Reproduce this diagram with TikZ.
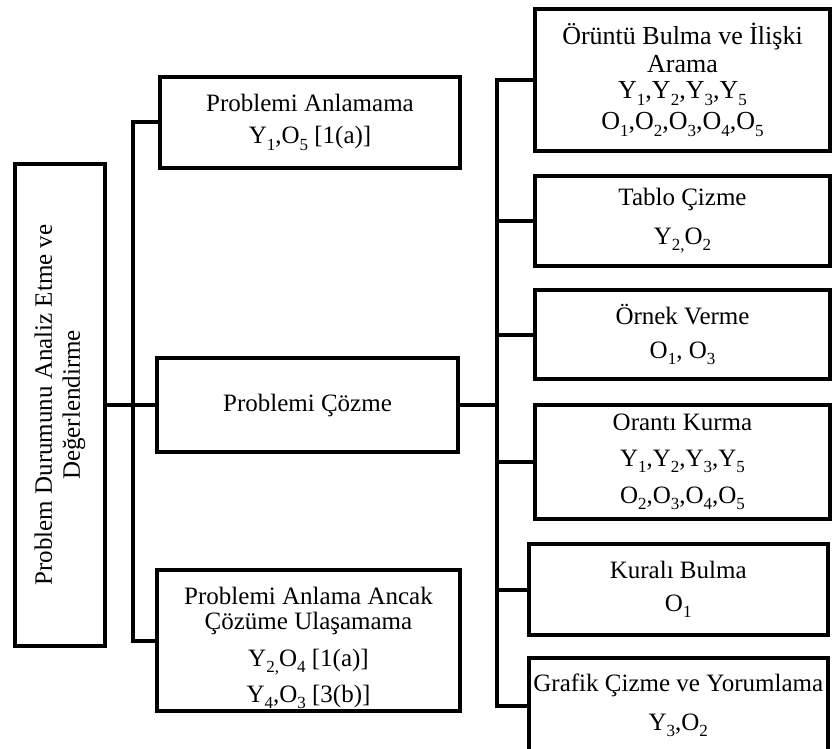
\documentclass[tikz,border=0pt]{standalone}
\usepackage{fontspec}
\setmainfont{Liberation Serif}
% lowered, fairly large subscript digits
\newcommand\sbs[1]{\raisebox{-6.5pt}{\fontsize{17}{17}\selectfont #1}}
\begin{document}
\begin{tikzpicture}[x=1pt,y=-1pt,
  box/.style={draw=black, line width=4pt, fill=white, inner sep=0pt,
    align=center, font=\fontsize{25}{28}\selectfont},
  link/.style={draw=black, line width=4pt}]
\useasboundingbox (0,0) rectangle (832,749);

% root box, text set vertically
\node[box, rotate=90, minimum width=482, minimum height=90] (main) at (60,405)
  {Problem Durumunu Analiz Etme ve\\ Değerlendirme};

% second level
\node[box, minimum width=300, minimum height=91] (A) at (310,122.5)
  {Problemi Anlamama\\[4pt] Y\sbs{1},O\sbs{5} [1(a)]};
\node[box, minimum width=301, minimum height=94] (B) at (307.5,405)
  {Problemi Çözme};
\node[box, minimum width=303, minimum height=141] (C) at (308.5,640.5)
  {\rule{0pt}{32pt}Problemi Anlama Ancak\\[-3pt] Çözüme Ulaşamama\\[9pt]
   Y\sbs{2,}O\sbs{4} [1(a)]\\[8pt]
   Y\sbs{4},O\sbs{3} [3(b)]};

% strategies used while solving
\node[box, minimum width=295, minimum height=141.5,
      font=\fontsize{26}{28}\selectfont] (R1) at (682.5,80)
  {Örüntü Bulma ve İlişki\\[0pt] Arama\\[-2pt]
   Y\sbs{1},Y\sbs{2},Y\sbs{3},Y\sbs{5}\\[3pt]
   O\sbs{1},O\sbs{2},O\sbs{3},O\sbs{4},O\sbs{5}};
\node[box, minimum width=295, minimum height=90] (R2) at (682.5,220.5)
  {Tablo Çizme\\[11pt] Y\sbs{2,}O\sbs{2}};
\node[box, minimum width=295, minimum height=89] (R3) at (682.5,334.5)
  {Örnek Verme\\[6pt] O\sbs{1}, O\sbs{3}};
\node[box, minimum width=295, minimum height=114] (R4) at (682.5,462)
  {Orantı Kurma\\[8pt]
   Y\sbs{1},Y\sbs{2},Y\sbs{3},Y\sbs{5}\\[9pt]
   O\sbs{2},O\sbs{3},O\sbs{4},O\sbs{5}};
\node[box, minimum width=299.5, minimum height=91] (R5) at (678.25,589.5)
  {Kuralı Bulma\\[5pt] O\sbs{1}};
\node[box, minimum width=299.5, minimum height=95] (R6) at (678.25,705.5)
  {Grafik Çizme ve Yorumlama\\[11pt] Y\sbs{3},O\sbs{2}};

% connector buses
\coordinate (lbus) at (132.5,405);
\coordinate (rbus) at (497,405);

\draw[link] (main.south) -- (B.west);
\draw[link] (A.west) -| (lbus) |- (C.west);
\draw[link] (B.east) -- (rbus);
\draw[link] (R1.west) -| (rbus) |- (R6.west);
\foreach \n in {R2,R3,R4,R5}
  \draw[link] (\n.west) -- (rbus |- \n.west);
\end{tikzpicture}
\end{document}
